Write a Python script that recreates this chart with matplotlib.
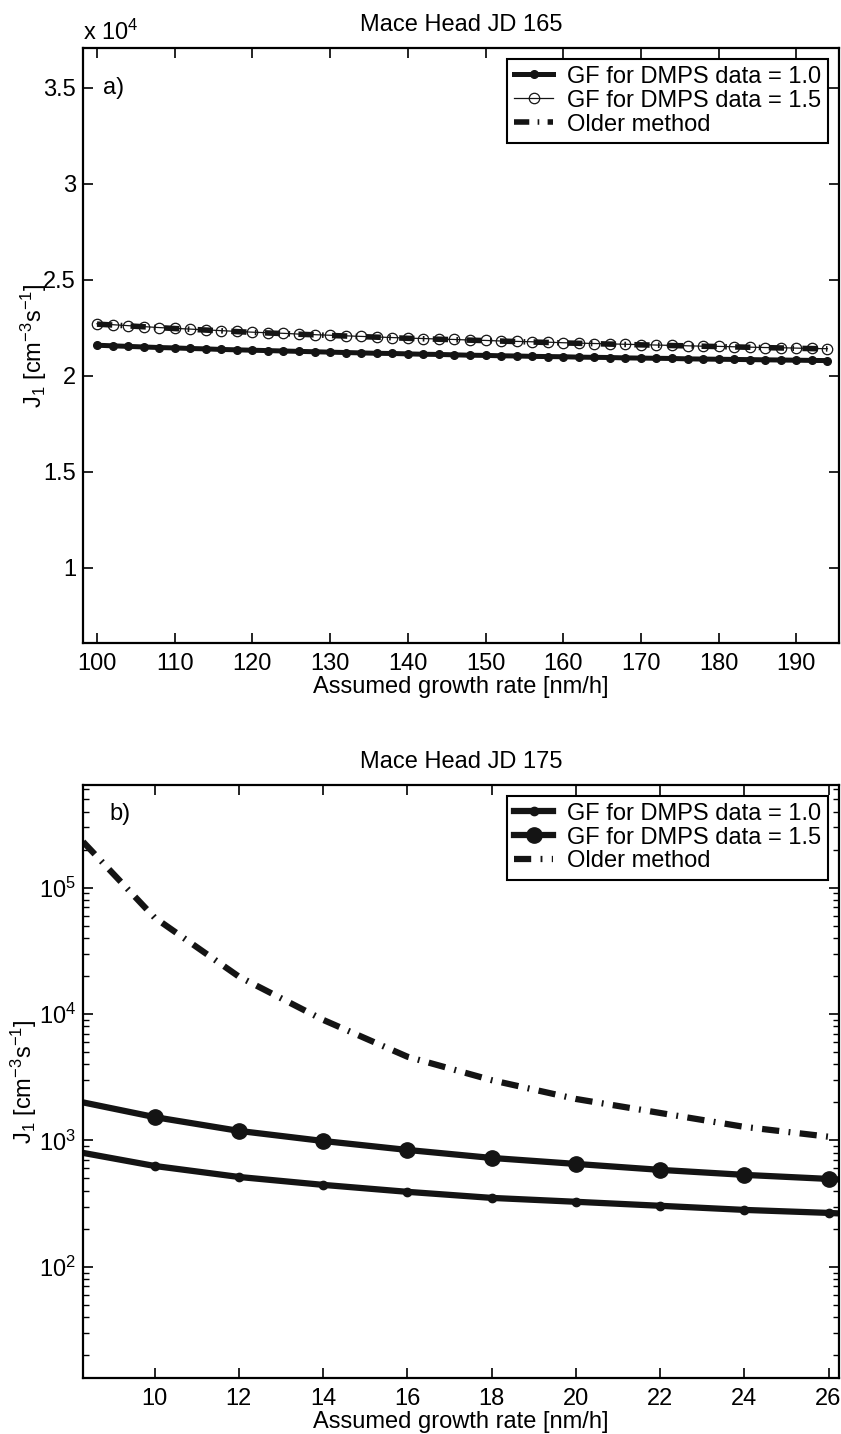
import numpy as np
import matplotlib
matplotlib.use("Agg")
import matplotlib.pyplot as plt
from matplotlib.ticker import FixedLocator, FuncFormatter, LogLocator, NullFormatter

plt.rcParams['font.family'] = ['Liberation Sans', 'DejaVu Sans']
plt.rcParams['mathtext.fontset'] = 'custom'
plt.rcParams['mathtext.rm'] = 'Liberation Sans'
plt.rcParams['mathtext.it'] = 'Liberation Sans'

# ---- panel a) Mace Head JD 165 ----
gr_a = [100, 102, 104, 106, 108, 110, 112, 114, 116, 118, 120, 122, 124, 126, 128, 130,
        132, 134, 136, 138, 140, 142, 144, 146, 148, 150, 152, 154, 156, 158, 160, 162,
        164, 166, 168, 170, 172, 174, 176, 178, 180, 182, 184, 186, 188, 190, 192, 194]
j1_gf10_a = [21600, 21570, 21540, 21510, 21480, 21460, 21430, 21410, 21380, 21360, 21340, 21320,
             21300, 21280, 21260, 21240, 21220, 21200, 21180, 21170, 21150, 21130, 21120, 21100,
             21080, 21070, 21050, 21040, 21020, 21010, 21000, 20980, 20970, 20960, 20940, 20930,
             20920, 20910, 20890, 20880, 20870, 20860, 20850, 20840, 20830, 20820, 20810, 20800]
j1_gf15_a = [22720, 22670, 22620, 22570, 22520, 22480, 22440, 22400, 22360, 22320, 22280, 22250,
             22220, 22180, 22150, 22120, 22090, 22060, 22030, 22000, 21970, 21950, 21920, 21900,
             21870, 21850, 21820, 21800, 21780, 21760, 21730, 21710, 21690, 21670, 21650, 21630,
             21610, 21590, 21570, 21550, 21540, 21520, 21500, 21480, 21470, 21450, 21430, 21420]
gr_old_a = [100, 110, 120, 130, 140, 150, 160, 170, 180, 190, 194]
j1_old_a = [22700, 22470, 22270, 22110, 21960, 21840, 21720, 21620, 21530, 21440, 21410]

# ---- panel b) Mace Head JD 175 ----
gr_b = [8.3, 10, 12, 14, 16, 18, 20, 22, 24, 26, 26.2]
j1_gf10_b = [797, 628, 514, 445, 392, 351, 327, 304, 282, 267, 265]
j1_gf15_b = [2000, 1530, 1190, 990, 841, 727, 652, 585, 534, 496, 492]
j1_old_b = [231000, 58000, 19800, 9000, 4600, 3000, 2130, 1650, 1280, 1070, 1040]

fig = plt.figure(figsize=(8.41, 14.34), dpi=100)
ax1 = fig.add_axes([0.0987, 0.5516, 0.899, 0.4149])
ax2 = fig.add_axes([0.0987, 0.0391, 0.899, 0.4135])

fs = 17
ink = '#141414'
ylab = r'J$_1$ [cm$^{-3}$s$^{-1}$]'
xlab = 'Assumed growth rate [nm/h]'
olddash = (2.75, 1.5, 0.3, 1.5)

# panel a
ax1.plot(gr_a, j1_gf10_a, '-o', color=ink, lw=3.6, ms=5.5, mfc=ink, mec=ink,
         label='GF for DMPS data = 1.0')
ax1.plot(gr_a, j1_gf15_a, '-o', color=ink, lw=0.9, ms=7.5, mfc='none', mec=ink, mew=0.9,
         label='GF for DMPS data = 1.5')
ax1.plot(gr_old_a, j1_old_a, color=ink, lw=4, dashes=olddash, dash_capstyle='butt',
         label='Older method')
ax1.set_xlim(98.2, 195.5)
ax1.set_ylim(6090, 37080)
ax1.xaxis.set_major_locator(FixedLocator([100, 110, 120, 130, 140, 150, 160, 170, 180, 190]))
ax1.yaxis.set_major_locator(FixedLocator([10000, 15000, 20000, 25000, 30000, 35000]))
ax1.yaxis.set_major_formatter(FuncFormatter(lambda v, p: '%g' % (v / 1e4)))
ax1.set_title('Mace Head JD 165', fontsize=fs, pad=12)
ax1.text(0.0, 1.005, r'x 10$^{4}$', transform=ax1.transAxes, fontsize=fs, va='bottom', ha='left')
ax1.text(100.8, 35000, 'a)', fontsize=fs, va='center', ha='left')

# panel b
ax2.plot(gr_b, j1_gf10_b, '-o', color=ink, lw=4.5, ms=6, markevery=list(range(1, 10)),
         label='GF for DMPS data = 1.0')
ax2.plot(gr_b, j1_gf15_b, '-o', color=ink, lw=4.5, ms=11, markevery=list(range(1, 10)),
         label='GF for DMPS data = 1.5')
ax2.plot(gr_b, j1_old_b, color=ink, lw=4.5, dashes=olddash, dash_capstyle='butt',
         label='Older method')
ax2.set_yscale('log')
ax2.set_xlim(8.3, 26.25)
ax2.set_ylim(13.2, 6.5e5)
ax2.xaxis.set_major_locator(FixedLocator([10, 12, 14, 16, 18, 20, 22, 24, 26]))
ax2.yaxis.set_major_locator(FixedLocator([1e2, 1e3, 1e4, 1e5]))
ax2.yaxis.set_minor_locator(LogLocator(base=10, subs=np.arange(2, 10)))
ax2.yaxis.set_minor_formatter(NullFormatter())
ax2.set_title('Mace Head JD 175', fontsize=fs, pad=12)
ax2.text(8.93, 3.8e5, 'b)', fontsize=fs, va='center', ha='left')

for ax, ypad in ((ax1, -4), (ax2, 0)):
    ax.set_xlabel(xlab, fontsize=fs, labelpad=1)
    ax.set_ylabel(ylab, fontsize=fs, labelpad=ypad)
    ax.tick_params(which='both', direction='in', top=True, right=True, labelsize=fs)
    ax.tick_params(which='major', length=7, width=1.2)
    ax.tick_params(which='minor', length=4, width=1.0)
    ax.tick_params(axis='x', pad=7)
    ax.tick_params(axis='y', pad=5)
    for s in ax.spines.values():
        s.set_linewidth(1.6)
    leg = ax.legend(loc='upper right', fontsize=fs, handlelength=1.65, handletextpad=0.6,
                    borderpad=0.3, labelspacing=0.08, borderaxespad=0.45, fancybox=False,
                    framealpha=1)
    leg.get_frame().set_edgecolor('black')
    leg.get_frame().set_linewidth(1.5)

fig.savefig('out.png', dpi=100)
